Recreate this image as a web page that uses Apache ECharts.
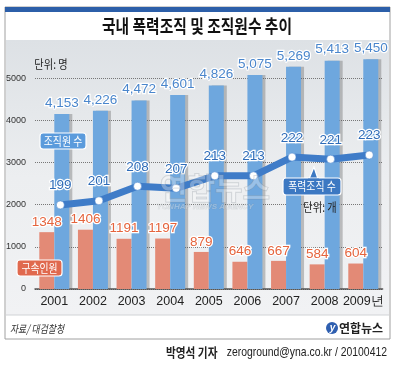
<!DOCTYPE html>
<html><head><meta charset="utf-8">
<script src="https://cdn.jsdelivr.net/npm/echarts@6/dist/echarts.min.js"></script>
<style>html,body{margin:0;padding:0;background:#fff}#c{width:396px;height:365px}</style>
</head><body><div id="c"></div>
<script>
const years = ['2001','2002','2003','2004','2005','2006','2007','2008','2009년'];
const members = [4153,4226,4472,4601,4826,5075,5269,5413,5450];
const arrested = [1348,1406,1191,1197,879,646,667,584,604];
const orgs = [199,201,208,207,213,213,222,221,223];

const NUM = '"Liberation Sans",Arial,sans-serif';
const KR = '"Noto Sans CJK KR","Noto Sans",sans-serif';
const chart = echarts.init(document.getElementById('c'));

function txt(x,y,text,size,opts){
  return Object.assign({type:'text',x:x,y:y,style:Object.assign({text:text,fontSize:size,fontFamily:KR,fill:'#222',textAlign:'center',textVerticalAlign:'middle'},opts&&opts.style||{})},opts&&opts.el||{});
}
const SHIFT = 0.155; // line points sit over the blue bars
const orgPoints = orgs.map(function(v,i){return [i,v];});

chart.setOption({
  animation:false,
  grid:{left:35,right:13.4,top:36,bottom:76},
  xAxis:[
    {type:'category',data:years,
     axisLine:{lineStyle:{color:'#555',width:1.5}},axisTick:{show:false},
     axisLabel:{interval:0,color:'#222',fontSize:12.5,fontFamily:NUM,margin:6}},
    {type:'value',min:-0.5-SHIFT,max:8.5-SHIFT,show:false,splitLine:{show:false}}
  ],
  yAxis:[
    {type:'value',min:0,max:6000,interval:1000,
     axisLine:{show:false},axisTick:{show:false},
     axisLabel:{color:'#333',fontSize:9,fontFamily:NUM,margin:9,
       formatter:function(v){return v>5000?'':String(v);}},
     splitLine:{lineStyle:{type:'dotted',width:1,color:['#555','#777','#777','#777','#777','#777','rgba(0,0,0,0)']}}},
    {type:'value',min:158.6,max:280.2,show:false,splitLine:{show:false}}
  ],
  series:[
    {type:'bar',name:'구속인원',xAxisIndex:0,yAxisIndex:0,data:arrested,barWidth:15,barGap:'0%',
     itemStyle:{color:'#e38a76'},
     label:{show:true,position:'top',distance:3,color:'#e5643d',fontSize:13.5,fontFamily:NUM,
       textBorderColor:'#fff',textBorderWidth:2.5}},
    {type:'bar',name:'조직원 수',xAxisIndex:0,yAxisIndex:0,data:members,barWidth:15,
     itemStyle:{color:'#6ea7de',shadowColor:'rgba(90,90,90,0.35)',shadowOffsetX:3,shadowBlur:0},
     label:{show:true,position:'top',distance:4,color:'#4a86cc',fontSize:13.5,fontFamily:NUM,
       textBorderColor:'#fff',textBorderWidth:2.5,
       formatter:function(p){return p.value.toLocaleString('en-US');}}},
    {type:'line',name:'폭력조직 수',xAxisIndex:1,yAxisIndex:1,data:orgPoints,z:5,
     symbol:'circle',symbolSize:8,
     itemStyle:{color:'#ffffff',borderColor:'#3f7cc8',borderWidth:0.5},
     lineStyle:{color:'#3f7cc8',width:7},
     label:{show:true,position:'top',distance:8,color:'#2f6cb8',fontSize:13.5,fontFamily:NUM,
       textBorderColor:'#fff',textBorderWidth:2.5,formatter:function(p){return p.value[1];}}}
  ],
  graphic:[
    {type:'rect',z:-20,shape:{x:5,y:7,width:385,height:332},style:{fill:'#fff',stroke:'#a0a0a0',lineWidth:1}},
    {type:'rect',z:-19,shape:{x:6,y:40,width:383,height:275},
     style:{fill:new echarts.graphic.LinearGradient(0,0,0,1,[{offset:0,color:'#dde1e5'},{offset:0.5,color:'#eceef0'},{offset:1,color:'#f1f2f4'}])}},
    {type:'rect',z:-18,shape:{x:5,y:7,width:385,height:5},style:{fill:'#2c5fa9'}},
    {type:'line',z:-18,shape:{x1:6,y1:315,x2:389,y2:315},style:{stroke:'#d0d3d6',lineWidth:1}},
    txt(197,26,'국내 폭력조직 및 조직원수 추이',18,{style:{fontWeight:'bold',fill:'#111'},el:{scaleX:0.82,z:10}}),
    txt(51,64,'단위: 명',12,{style:{fill:'#222'},el:{scaleX:0.85,z:10}}),
    txt(320,207,'단위: 개',12,{style:{fill:'#222'},el:{scaleX:0.85,z:10}}),
    // watermark
    txt(215,188,'연합뉴스',30,{style:{fontWeight:'bold',fill:'rgba(255,255,255,0.3)',stroke:'rgba(120,130,140,0.3)',lineWidth:1},el:{z:50}}),
    txt(205,207,'YONHAP NEWS AGENCY',8,{style:{fontStyle:'italic',fontWeight:'bold',fill:'rgba(255,255,255,0.3)',stroke:'rgba(120,130,140,0.25)',lineWidth:0.6,fontFamily:NUM},el:{z:50}}),
    // tags
    {type:'rect',z:60,shape:{x:40,y:133,width:46,height:16,r:3},style:{fill:'#5b9bdc',stroke:'#fff',lineWidth:1.2}},
    txt(63,141,'조직원 수',12,{style:{fill:'#fff'},el:{scaleX:0.82,z:61}}),
    {type:'rect',z:60,shape:{x:17,y:260,width:45,height:16,r:3},style:{fill:'#e0694e',stroke:'#fff',lineWidth:1.2}},
    txt(39.5,268,'구속인원',12,{style:{fill:'#fff'},el:{scaleX:0.82,z:61}}),
    {type:'polygon',z:60,shape:{points:[[309,179],[314,167],[318,179]]},style:{fill:'#3c78c2',stroke:'#fff',lineWidth:1.2}},
    {type:'rect',z:60,shape:{x:283,y:178,width:58,height:17,r:3},style:{fill:'#3c78c2',stroke:'#fff',lineWidth:1.2}},
    {type:'rect',z:61,shape:{x:308,y:178.6,width:11,height:3},style:{fill:'#3c78c2'}},
    txt(312,186.5,'폭력조직 수',12,{style:{fill:'#fff'},el:{scaleX:0.82,z:62}}),
    // footer
    txt(10,329,'자료/ 대검찰청',11,{style:{fill:'#333',textAlign:'left',fontStyle:'italic'},el:{scaleX:0.8,z:10}}),
    {type:'circle',z:10,shape:{cx:332,cy:328,r:6},style:{fill:'#2f5fb0'}},
    txt(332.5,328,'y',10,{style:{fill:'#fff',fontWeight:'bold',fontStyle:'italic',fontFamily:NUM},el:{z:11}}),
    txt(339,328,'연합뉴스',12,{style:{fill:'#222',fontWeight:'bold',textAlign:'left'},el:{z:10}}),
    txt(166,352,'박영석 기자',13,{style:{fill:'#222',fontWeight:'bold',textAlign:'left'},el:{scaleX:0.82,z:10}}),
    txt(387,352,'zeroground@yna.co.kr / 20100412',13,{style:{fill:'#222',textAlign:'right',fontFamily:NUM},el:{scaleX:0.8,z:10}})
  ]
});
</script></body></html>
